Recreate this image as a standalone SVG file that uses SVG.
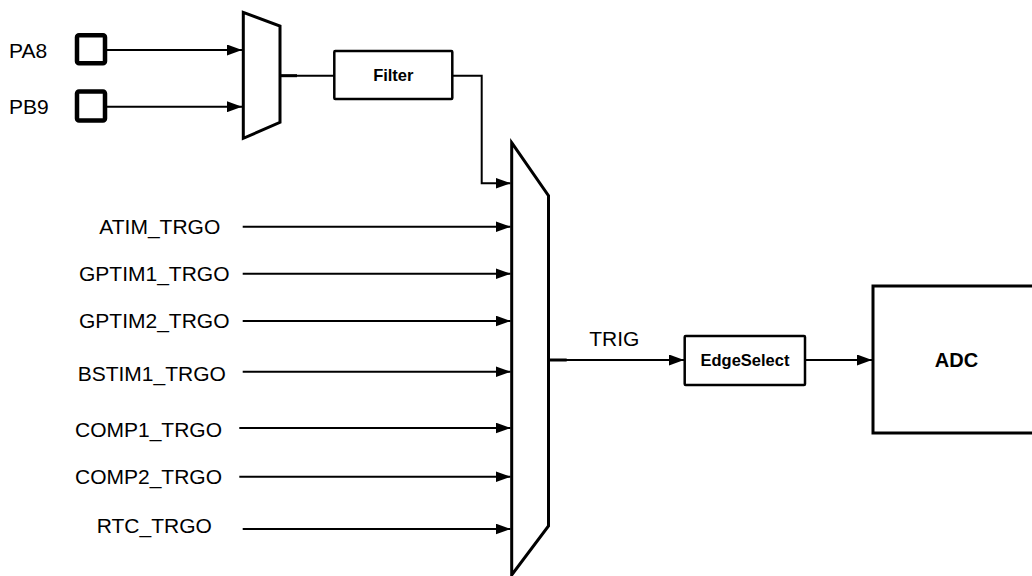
<svg xmlns="http://www.w3.org/2000/svg" width="1032" height="576" viewBox="0 0 1032 576">
<defs>
<marker id="arr" markerUnits="userSpaceOnUse" markerWidth="15" markerHeight="11" refX="15" refY="5.5" orient="auto">
<path d="M0,0 L15,5.5 L0,11 z" fill="#000"/>
</marker>
<style>
.lbl{font-family:"Liberation Sans",Arial,sans-serif;font-size:21px;fill:#000}
.blbl{font-family:"Liberation Sans",Arial,sans-serif;font-size:16.5px;font-weight:bold;fill:#000;text-anchor:middle}
.box{fill:#fff;stroke:#000;stroke-width:2.5}
.mux{fill:#fff;stroke:#000;stroke-width:3;stroke-linejoin:miter}
.pin{fill:#fff;stroke:#000;stroke-width:4.5}
.wire{fill:none;stroke:#000;stroke-width:2}
.arrow{fill:none;stroke:#000;stroke-width:2;marker-end:url(#arr)}
.stub{fill:none;stroke:#000;stroke-width:3}
</style>
</defs>
<rect width="1032" height="576" fill="#fff"/>

<g id="connectors">
<line class="arrow" x1="107" y1="50" x2="242" y2="50"/>
<line class="arrow" x1="107" y1="106.7" x2="242" y2="106.7"/>
<line class="wire" x1="280" y1="75.7" x2="334.5" y2="75.7"/>
<line class="stub" x1="280" y1="75.7" x2="297" y2="75.7"/>
<polyline class="arrow" points="452.3,75.7 481.7,75.7 481.7,183.3 510.5,183.3"/>
<line class="arrow" x1="242.7" y1="226.7" x2="510.5" y2="226.7"/>
<line class="arrow" x1="242.7" y1="273.7" x2="510.5" y2="273.7"/>
<line class="arrow" x1="242.7" y1="321" x2="510.5" y2="321"/>
<line class="arrow" x1="242.7" y1="371.7" x2="510.5" y2="371.7"/>
<line class="arrow" x1="239.3" y1="428" x2="510.5" y2="428"/>
<line class="arrow" x1="239.3" y1="476.7" x2="510.5" y2="476.7"/>
<line class="arrow" x1="242.7" y1="529" x2="510.5" y2="529"/>
<line class="arrow" x1="548.5" y1="360" x2="684" y2="360"/>
<line class="stub" x1="548.5" y1="360" x2="566.7" y2="360"/>
<line class="arrow" x1="805" y1="360" x2="872" y2="360"/>
</g>

<g id="pa8">
<rect class="pin" x="77" y="35.3" width="28" height="28" rx="2"/>
<text class="lbl" x="9" y="58">PA8</text>
</g>
<g id="pb9">
<rect class="pin" x="77" y="91.5" width="28" height="29" rx="2"/>
<text class="lbl" x="9" y="114">PB9</text>
</g>

<g id="mux1">
<polygon class="mux" points="243.3,12.3 280,26 280,122.3 243.3,138.3"/>
</g>

<g id="filter">
<rect class="box" x="334.3" y="51" width="118" height="48" rx="1"/>
<text class="blbl" x="393.3" y="81">Filter</text>
</g>

<g id="mux2">
<polygon class="mux" points="511.7,142.7 548.5,195.7 548.5,526 511.7,575"/>
</g>

<g id="inputs">
<text class="lbl" x="99.3" y="234">ATIM_TRGO</text>
<text class="lbl" x="79" y="280.7">GPTIM1_TRGO</text>
<text class="lbl" x="79" y="327.7">GPTIM2_TRGO</text>
<text class="lbl" x="77.7" y="380.7">BSTIM1_TRGO</text>
<text class="lbl" x="75" y="436.7">COMP1_TRGO</text>
<text class="lbl" x="75" y="484.3">COMP2_TRGO</text>
<text class="lbl" x="96.7" y="533.3">RTC_TRGO</text>
</g>

<g id="trig">
<text class="lbl" x="589.3" y="346">TRIG</text>
</g>

<g id="edgeselect">
<rect class="box" x="684.7" y="336" width="120.3" height="49" rx="1"/>
<text class="blbl" x="745" y="365.7">EdgeSelect</text>
</g>

<g id="adc">
<rect class="box" x="873" y="286" width="170" height="147" style="stroke-width:3"/>
<text class="blbl" x="956.5" y="367.3" style="font-size:20px">ADC</text>
</g>
</svg>
